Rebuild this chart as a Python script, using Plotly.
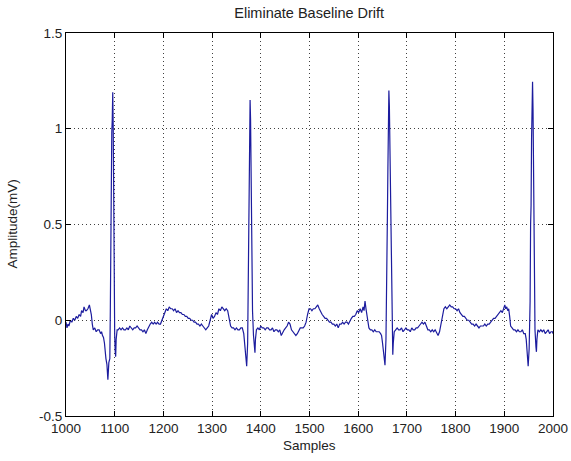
import plotly.graph_objects as go

# ECG trace after baseline-drift removal: sample index -> amplitude (mV)
sample_idx = [
    # leading segment and first Q wave
    1000, 1002, 1004, 1006, 1009, 1012, 1015, 1018, 1021, 1024, 1027, 1030, 1032, 1035, 1037, 1040,
    1042, 1045, 1048, 1050, 1052, 1054, 1056, 1059, 1062, 1065, 1068, 1071, 1073, 1075, 1077, 1079,
    1080, 1082, 1084, 1086, 1088, 1090,
    # QRS 1
    1091, 1092, 1093, 1094, 1095, 1096, 1097, 1098, 1099, 1100, 1101, 1102, 1103, 1105,
    # ST segment
    1107, 1110, 1113, 1116, 1119, 1122, 1125, 1128, 1131, 1134, 1137, 1140, 1143, 1146, 1149, 1152,
    1155, 1158, 1161, 1164, 1167, 1170, 1173, 1176, 1179, 1182, 1185, 1188, 1191, 1194,
    # T wave
    1197, 1200, 1203, 1206, 1209, 1212, 1215, 1218, 1221, 1224, 1227, 1230, 1233, 1236, 1239, 1242,
    1245, 1248, 1251, 1254, 1257, 1260, 1263, 1266, 1269, 1272, 1275, 1278, 1281, 1284, 1287, 1290,
    # P wave, PR segment, Q wave
    1293, 1296, 1299, 1302, 1305, 1308, 1311, 1314, 1317, 1320, 1323, 1326, 1329, 1332, 1335, 1338,
    1341, 1344, 1347, 1350, 1353, 1356, 1359, 1362, 1365, 1367, 1369, 1371, 1373,
    # QRS 2
    1374, 1375, 1376, 1377, 1378, 1379, 1380, 1381, 1382, 1383, 1385, 1387, 1388, 1389, 1391,
    # ST segment
    1394, 1397, 1400, 1403, 1406, 1409, 1412, 1415, 1418, 1421, 1424, 1427, 1430, 1433, 1436, 1439,
    1442, 1445, 1448, 1451, 1454, 1457, 1460, 1463, 1466, 1469, 1472, 1475, 1478, 1481, 1484, 1487,
    1490, 1493,
    # T wave
    1496, 1499, 1502, 1505, 1508, 1511, 1514, 1517, 1520, 1523, 1526, 1529, 1532, 1535, 1538, 1541,
    1544, 1547, 1550, 1553, 1556, 1559,
    # P wave, Q wave
    1562, 1565, 1568, 1571, 1574, 1577, 1580, 1583, 1586, 1589, 1592, 1595, 1598, 1601, 1604, 1607,
    1610, 1612, 1614, 1616, 1618, 1620, 1622, 1625, 1628, 1631, 1634, 1637, 1640, 1643, 1646, 1648,
    1650, 1652, 1654, 1655,
    # QRS 3
    1657, 1659, 1660, 1661, 1662, 1663, 1664, 1665, 1666, 1667, 1668, 1669, 1670, 1671, 1672, 1674,
    # ST segment
    1677, 1680, 1683, 1686, 1689, 1692, 1695, 1698, 1701, 1704, 1707, 1710, 1713, 1716, 1719, 1722,
    1725, 1728, 1731, 1734, 1737, 1740, 1743, 1746, 1749, 1752, 1755, 1758, 1761, 1764, 1767, 1770,
    # T wave
    1773, 1776, 1779, 1782, 1785, 1788, 1791, 1794, 1797, 1800, 1803, 1806, 1809, 1812, 1815, 1818,
    1821, 1824, 1827, 1830, 1833, 1836, 1839, 1842, 1845, 1848, 1851, 1854, 1857, 1860, 1863, 1866,
    1869,
    # P wave, Q wave
    1872, 1875, 1878, 1881, 1884, 1887, 1890, 1893, 1896, 1899, 1901, 1903, 1905, 1907, 1909, 1911,
    1913, 1916, 1919, 1922, 1925, 1928, 1931, 1934, 1937, 1940, 1943, 1945, 1947, 1949,
    # QRS 4
    1951, 1953, 1954, 1955, 1956, 1957, 1958, 1959, 1960, 1961, 1962, 1963, 1965, 1966, 1967, 1969,
    # tail
    1972, 1975, 1978, 1981, 1984, 1987, 1990, 1993, 1996, 1999, 2000,
]

amplitude_mv = [
    -0.01, -0.04, -0.02, -0.03, 0.00, -0.01, 0.01, 0.00, 0.02, 0.01, 0.03, 0.02, 0.05, 0.04, 0.07, 0.05,
    0.05, 0.06, 0.08, 0.06, 0.03, -0.02, -0.05, -0.04, -0.06, -0.05, -0.05, -0.07, -0.06, -0.08, -0.09, -0.12,
    -0.16, -0.20, -0.23, -0.31, -0.22, -0.20,
    0.05, 0.55, 0.60, 0.98, 1.05, 1.19, 1.00, 0.45, 0.10, -0.08, -0.16, -0.19, -0.10, -0.05,
    -0.05, -0.04, -0.05, -0.04, -0.05, -0.05, -0.04, -0.05, -0.03, -0.04, -0.05, -0.04, -0.04, -0.03, -0.04, -0.05,
    -0.05, -0.06, -0.05, -0.07, -0.05, -0.03, -0.02, -0.01, -0.02, -0.01, -0.02, -0.01, -0.02, -0.02,
    0.00, 0.03, 0.05, 0.06, 0.05, 0.07, 0.06, 0.06, 0.05, 0.06, 0.04, 0.05, 0.04, 0.04, 0.03, 0.03,
    0.02, 0.02, 0.01, 0.01, 0.00, 0.00, -0.01, -0.01, -0.02, -0.02, -0.03, -0.02, -0.03, -0.04, -0.05, -0.04,
    -0.03, 0.00, 0.03, 0.01, 0.02, 0.04, 0.03, 0.06, 0.05, 0.07, 0.06, 0.05, 0.06, 0.05, 0.01, -0.03,
    -0.04, -0.04, -0.05, -0.04, -0.05, -0.05, -0.04, -0.04, -0.07, -0.12, -0.20, -0.24, -0.12,
    0.10, 0.50, 0.85, 1.08, 1.15, 1.05, 0.68, 0.62, 0.35, 0.05, -0.08, -0.15, -0.17, -0.10, -0.05,
    -0.04, -0.05, -0.03, -0.04, -0.04, -0.05, -0.04, -0.04, -0.05, -0.05, -0.04, -0.06, -0.05, -0.05, -0.06, -0.05,
    -0.08, -0.06, -0.05, -0.04, -0.03, -0.01, -0.02, -0.05, -0.06, -0.07, -0.08, -0.07, -0.05, -0.04, -0.04, -0.04,
    -0.03, -0.01,
    0.03, 0.06, 0.06, 0.05, 0.06, 0.06, 0.07, 0.08, 0.06, 0.04, 0.03, 0.02, 0.01, 0.01, 0.00, -0.01,
    -0.01, -0.02, -0.02, -0.03, -0.02, -0.04,
    -0.02, -0.02, -0.01, -0.02, -0.01, -0.01, -0.02, 0.00, 0.01, 0.02, 0.02, 0.03, 0.05, 0.04, 0.06, 0.04,
    0.07, 0.05, 0.10, 0.06, 0.02, -0.03, -0.04, -0.05, -0.05, -0.06, -0.05, -0.06, -0.06, -0.06, -0.07, -0.08,
    -0.12, -0.17, -0.21, -0.235,
    -0.10, 0.20, 0.55, 0.80, 1.05, 1.20, 1.12, 0.90, 0.64, 0.58, 0.25, -0.02, -0.12, -0.18, -0.12, -0.06,
    -0.05, -0.04, -0.05, -0.05, -0.04, -0.06, -0.05, -0.04, -0.05, -0.05, -0.06, -0.04, -0.05, -0.05, -0.04, -0.04,
    -0.03, -0.02, -0.01, -0.02, -0.01, -0.03, -0.05, -0.05, -0.06, -0.05, -0.06, -0.05, -0.07, -0.08, -0.06, -0.02,
    0.03, 0.06, 0.07, 0.06, 0.07, 0.08, 0.07, 0.07, 0.06, 0.06, 0.05, 0.06, 0.04, 0.03, 0.02, 0.02,
    0.01, 0.00, 0.00, -0.01, -0.02, -0.02, -0.03, -0.02, -0.03, -0.04, -0.03, -0.03, -0.03, -0.02, -0.03, -0.02,
    -0.02,
    -0.01, 0.00, 0.01, 0.01, 0.02, 0.03, 0.04, 0.05, 0.04, 0.06, 0.08, 0.06, 0.07, 0.05, 0.06, 0.02,
    -0.03, -0.04, -0.05, -0.05, -0.06, -0.05, -0.06, -0.06, -0.05, -0.07, -0.07, -0.10, -0.17, -0.24,
    -0.15, 0.10, 0.50, 0.60, 0.95, 1.15, 1.245, 1.10, 0.80, 0.40, 0.10, -0.05, -0.14, -0.165, -0.10, -0.05,
    -0.06, -0.05, -0.06, -0.05, -0.07, -0.06, -0.05, -0.07, -0.06, -0.06, -0.07,
]

x_ticks = [1000, 1100, 1200, 1300, 1400, 1500, 1600, 1700, 1800, 1900, 2000]
y_ticks = [-0.5, 0, 0.5, 1, 1.5]
y_tick_text = ["-0.5", "0", "0.5", "1", "1.5"]

FONT = "Arial, Liberation Sans, Helvetica, sans-serif"
TEXT_COLOR = "#222222"
TEXT_SIZE = 13.5

fig = go.Figure(
    go.Scatter(
        x=sample_idx,
        y=amplitude_mv,
        mode="lines",
        line=dict(color="#1c1c9e", width=1.2),
        showlegend=False,
    )
)

axis_common = dict(
    automargin=False,
    showline=True,
    linecolor="black",
    linewidth=1,
    mirror="ticks",
    ticks="inside",
    ticklen=5,
    tickcolor="black",
    showgrid=True,
    gridcolor="#404040",
    gridwidth=1,
    griddash="1px,3px",
    zeroline=False,
    tickfont=dict(family=FONT, size=TEXT_SIZE, color=TEXT_COLOR),
)

fig.update_layout(
    width=571,
    height=461,
    margin=dict(l=66, r=18, t=33, b=45),
    paper_bgcolor="white",
    plot_bgcolor="white",
    title=dict(
        text="Eliminate Baseline Drift",
        x=0.5415,
        xanchor="center",
        y=0.972,
        yanchor="middle",
        font=dict(family=FONT, size=14.5, color=TEXT_COLOR),
    ),
    xaxis=dict(
        range=[1000, 2000],
        tickvals=x_ticks,
        ticktext=[str(v) for v in x_ticks],
        ticklabelstandoff=0,
        **axis_common,
    ),
    yaxis=dict(
        range=[-0.5, 1.5],
        tickvals=y_ticks,
        ticktext=y_tick_text,
        **axis_common,
    ),
    annotations=[
        dict(
            text="Samples",
            xref="paper", yref="paper",
            x=0.5, y=0, xanchor="center", yanchor="top",
            yshift=-20,
            showarrow=False,
            font=dict(family=FONT, size=TEXT_SIZE, color=TEXT_COLOR),
        ),
        dict(
            text="Amplitude(mV)",
            xref="paper", yref="paper",
            x=0, y=0.5, xanchor="center", yanchor="middle",
            xshift=-54,
            textangle=-90,
            showarrow=False,
            font=dict(family=FONT, size=TEXT_SIZE, color=TEXT_COLOR),
        ),
    ],
)

fig.write_html("out.html")
